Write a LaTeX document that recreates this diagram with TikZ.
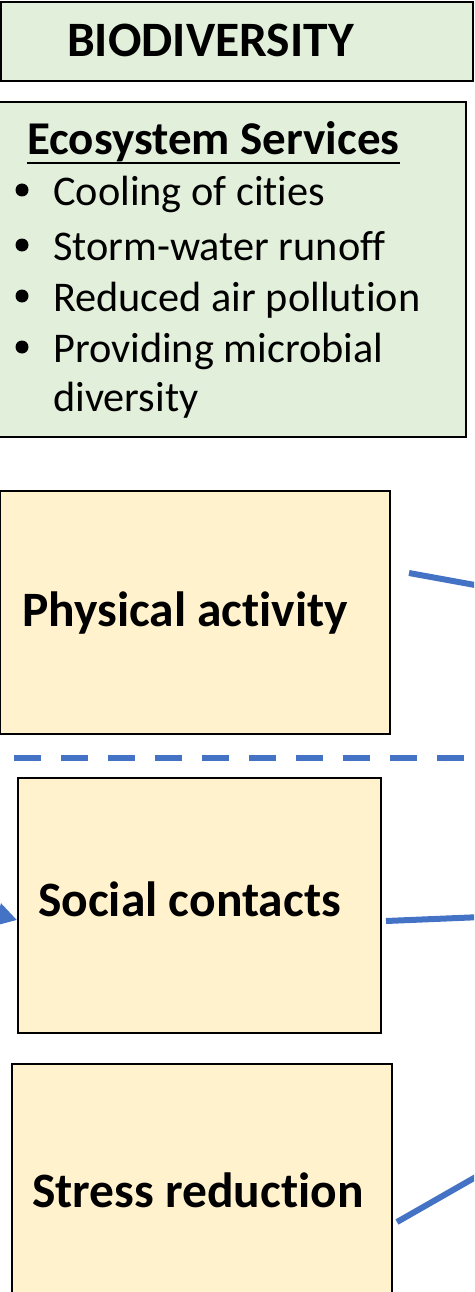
\documentclass[tikz,border=0pt]{standalone}
\usepackage{fontspec}
\setmainfont{Carlito}[Ligatures={NoCommon}]
\usetikzlibrary{arrows.meta}
\definecolor{boxgreen}{HTML}{E2EFDA}
\definecolor{boxyellow}{HTML}{FFF2CC}
\definecolor{linkblue}{HTML}{4472C4}
\begin{document}
\begin{tikzpicture}[x=1pt,y=-1pt,
  greenbox/.style={draw=black,line width=1.5pt,fill=boxgreen},
  yellowbox/.style={draw=black,line width=1.5pt,fill=boxyellow},
  bigtxt/.style={font=\fontsize{49.5}{54}\selectfont\bfseries,inner sep=0pt,anchor=base west},
  itemtxt/.style={font=\fontsize{42.3}{50}\selectfont,inner sep=0pt,anchor=base west},
  link/.style={draw=linkblue,line width=6pt},
  sep/.style={draw=linkblue,line width=6pt,dash pattern=on 27pt off 20pt}]
\useasboundingbox (0,0) rectangle (474,1292);
\clip (0,0) rectangle (474,1292);
% boxes
\draw[greenbox] (1,2) rectangle (473,81);
\node[bigtxt] (bio) at (67,57) {BIODIVERSITY};
\draw[greenbox] (-1,102) rectangle (466,437);
\node[font=\fontsize{47}{52}\selectfont\bfseries,inner sep=0pt,anchor=base west] (es) at (27,155) {Ecosystem Services};
\draw[line width=1.8pt] ([yshift=-8pt]es.base west) -- ([yshift=-8pt]es.base east);
\foreach \y/\t/\b in {205/Cooling of cities/1,260/Storm-water runoff/1,311/Reduced air pollution/1,362/Providing microbial/1,411/diversity/0}{
  \node[itemtxt] at (53,\y) {\t};
  \ifnum\b=1 \fill[black] (22,\y-15) circle[radius=6.5pt];\fi
}
\node[yellowbox,minimum width=390pt,minimum height=243pt,anchor=north west,inner sep=0pt] (pa) at (-1,490) {};
\node[bigtxt] (pat) at (22,626) {Physical activity};
\node[yellowbox,minimum width=363pt,minimum height=255pt,anchor=north west,inner sep=0pt] (sc) at (17,777) {};
\node[bigtxt] (sct) at (38,916) {Social contacts};
\node[yellowbox,minimum width=380pt,minimum height=229pt,anchor=north west,inner sep=0pt] (sr) at (11,1063) {};
\node[bigtxt] (srt) at (32,1207) {Stress reduction};
% separator
\coordinate (s1) at (14,758);
\coordinate (s2) at (470,758);
\draw[sep] (s1) -- (s2);
% connectors
\coordinate (pa1) at (409,573);
\coordinate (pa2) at (530,595);
\draw[link] (pa1) -- (pa2);
\coordinate (sc1) at (386,921);
\coordinate (sc2) at (530,915);
\draw[link] (sc1) -- (sc2);
\coordinate (sr1) at (397,1222);
\coordinate (sr2) at (530,1146);
\draw[link] (sr1) -- (sr2);
\coordinate (in1) at (-60,898);
\draw[draw=linkblue,line width=6pt,-{Triangle[length=20pt,width=22pt]}] (in1) -- (sc.west|-0,920);
\end{tikzpicture}
\end{document}
